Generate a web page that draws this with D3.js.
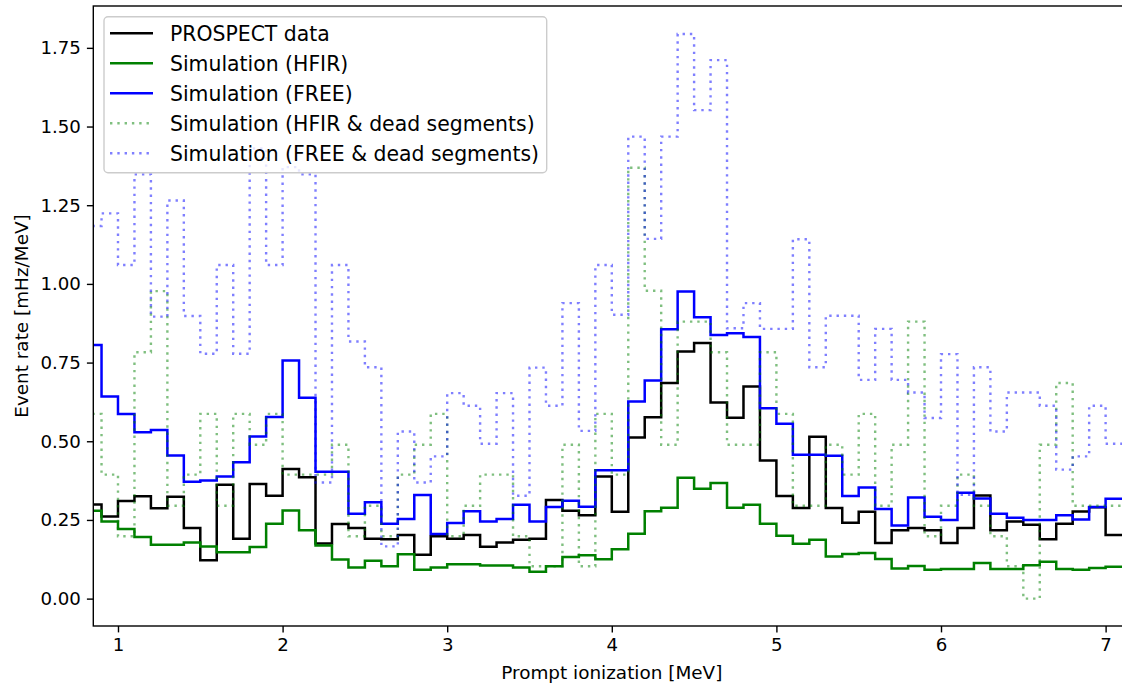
<!DOCTYPE html>
<html lang="en">
<head>
<meta charset="UTF-8">
<title>Prompt ionization spectrum</title>
<script src="https://d3js.org/d3.v7.min.js"></script>
<style>
  body { margin: 0; background: #fff; }
  svg { display: block; font-family: "DejaVu Sans", sans-serif; }
</style>
</head>
<body>
<div id="chart"></div>
<script>
// bin edges [MeV], 0.1 MeV wide
const binEdges = [0.8, 0.9, 1.0, 1.1, 1.2, 1.3, 1.4, 1.5, 1.6, 1.7, 1.8, 1.9, 2.0, 2.1, 2.2, 2.3,
  2.4, 2.5, 2.6, 2.7, 2.8, 2.9, 3.0, 3.1, 3.2, 3.3, 3.4, 3.5, 3.6, 3.7, 3.8, 3.9, 4.0, 4.1, 4.2,
  4.3, 4.4, 4.5, 4.6, 4.7, 4.8, 4.9, 5.0, 5.1, 5.2, 5.3, 5.4, 5.5, 5.6, 5.7, 5.8, 5.9, 6.0, 6.1,
  6.2, 6.3, 6.4, 6.5, 6.6, 6.7, 6.8, 6.9, 7.0, 7.1];

// event rate per bin [mHz/MeV]
const prospectData = [0.299, 0.261, 0.310, 0.325, 0.287, 0.324, 0.224, 0.122, 0.362, 0.190,
  0.364, 0.327, 0.412, 0.386, 0.175, 0.237, 0.224, 0.190, 0.189, 0.202, 0.139, 0.198, 0.190,
  0.202, 0.165, 0.178, 0.187, 0.190, 0.313, 0.279, 0.265, 0.388, 0.276, 0.512, 0.576, 0.685,
  0.785, 0.812, 0.623, 0.575, 0.674, 0.439, 0.326, 0.288, 0.514, 0.288, 0.241, 0.276, 0.177,
  0.217, 0.224, 0.217, 0.177, 0.224, 0.328, 0.217, 0.245, 0.235, 0.189, 0.238, 0.277, 0.290, 0.202];

const simHfir = [0.279, 0.245, 0.221, 0.196, 0.171, 0.171, 0.178, 0.166, 0.147, 0.147, 0.164,
  0.238, 0.280, 0.217, 0.169, 0.124, 0.099, 0.120, 0.103, 0.141, 0.092, 0.099, 0.109, 0.109,
  0.105, 0.105, 0.099, 0.085, 0.103, 0.132, 0.138, 0.125, 0.157, 0.206, 0.278, 0.289, 0.384,
  0.349, 0.367, 0.289, 0.298, 0.238, 0.200, 0.174, 0.187, 0.134, 0.142, 0.145, 0.126, 0.096,
  0.104, 0.092, 0.094, 0.094, 0.113, 0.094, 0.094, 0.106, 0.117, 0.094, 0.092, 0.097, 0.101];

const simFree = [0.806, 0.642, 0.587, 0.529, 0.536, 0.455, 0.371, 0.375, 0.388, 0.433, 0.515,
  0.577, 0.757, 0.638, 0.403, 0.403, 0.270, 0.306, 0.238, 0.253, 0.329, 0.205, 0.240, 0.278,
  0.245, 0.253, 0.298, 0.245, 0.291, 0.311, 0.292, 0.408, 0.408, 0.626, 0.693, 0.856, 0.976,
  0.894, 0.838, 0.843, 0.831, 0.605, 0.556, 0.457, 0.457, 0.454, 0.326, 0.353, 0.285, 0.232,
  0.321, 0.260, 0.250, 0.336, 0.318, 0.270, 0.257, 0.250, 0.250, 0.265, 0.251, 0.291, 0.317];

const simHfirDead = [0.587, 0.394, 0.198, 0.783, 0.977, 0.295, 0.394, 0.587, 0.295, 0.587,
  0.489, 0.587, 0.394, 0.394, 0.394, 0.489, 0.198, 0.295, 0.198, 0.394, 0.489, 0.587, 0.198,
  0.295, 0.394, 0.394, 0.198, 0.103, 0.103, 0.489, 0.103, 0.587, 0.394, 1.369, 0.978, 0.489,
  0.880, 0.880, 0.783, 0.489, 0.489, 0.783, 0.587, 0.295, 0.295, 0.489, 0.394, 0.587, 0.295,
  0.489, 0.880, 0.198, 0.295, 0.394, 0.295, 0.198, 0.103, 0.000, 0.489, 0.685, 0.295, 0.295, 0.295];

const simFreeDead = [1.184, 1.224, 1.060, 1.348, 0.896, 1.265, 0.898, 0.778, 1.060, 0.778,
  1.430, 1.060, 1.371, 1.348, 0.369, 1.060, 0.817, 0.735, 0.166, 0.531, 0.369, 0.452, 0.653,
  0.613, 0.492, 0.653, 0.327, 0.734, 0.613, 0.939, 0.533, 1.060, 0.902, 1.468, 1.143, 1.468,
  1.794, 1.552, 1.711, 0.859, 0.939, 0.857, 0.857, 1.142, 0.735, 0.899, 0.899, 0.695, 0.857,
  0.695, 0.655, 0.574, 0.777, 0.330, 0.735, 0.531, 0.655, 0.655, 0.613, 0.410, 0.452, 0.613, 0.492];

const xTicks = [1, 2, 3, 4, 5, 6, 7];
const yTicks = [0, 0.25, 0.5, 0.75, 1.0, 1.25, 1.5, 1.75];

const series = [
  { label: "PROSPECT data", values: prospectData, color: "#000000", dotted: false },
  { label: "Simulation (HFIR)", values: simHfir, color: "#008000", dotted: false },
  { label: "Simulation (FREE)", values: simFree, color: "#0000ff", dotted: false },
  { label: "Simulation (HFIR & dead segments)", values: simHfirDead, color: "#008000", dotted: true },
  { label: "Simulation (FREE & dead segments)", values: simFreeDead, color: "#0000ff", dotted: true }
];

// layout (the right spine falls just outside the picture)
const W = 1122, H = 683;
const plot = { left: 93.3, top: 6, right: 1130.3, bottom: 626 };

const svg = d3.select("#chart").append("svg")
  .attr("width", W)
  .attr("height", H);

const x = d3.scaleLinear().domain([0.85, 7.15]).range([plot.left, plot.right]);
const y = d3.scaleLinear().domain([-0.087, 1.883]).range([plot.bottom, plot.top]);

svg.append("clipPath").attr("id", "plot-clip")
  .append("rect")
  .attr("x", plot.left).attr("y", plot.top)
  .attr("width", plot.right - plot.left).attr("height", plot.bottom - plot.top);

// step histograms
const stepLine = d3.line()
  .x(d => x(d[0]))
  .y(d => y(d[1]))
  .curve(d3.curveStepAfter);

const lines = svg.append("g").attr("clip-path", "url(#plot-clip)");
series.forEach(s => {
  const pts = binEdges.map((e, i) => [e, s.values[Math.min(i, s.values.length - 1)]]);
  lines.append("path")
    .datum(pts)
    .attr("d", stepLine)
    .attr("fill", "none")
    .attr("stroke", s.color)
    .attr("stroke-opacity", s.dotted ? 0.5 : 1)
    .attr("stroke-width", s.dotted ? 2.4 : 2.5)
    .attr("stroke-dasharray", s.dotted ? "2.4,4.9" : null)
    .attr("stroke-linejoin", "miter")
    .attr("stroke-linecap", "butt");
});

// frame
svg.append("rect")
  .attr("x", plot.left).attr("y", plot.top)
  .attr("width", plot.right - plot.left).attr("height", plot.bottom - plot.top)
  .attr("fill", "none")
  .attr("stroke", "#000")
  .attr("stroke-width", 1.4);

// axes
svg.append("g")
  .attr("transform", `translate(0,${plot.bottom})`)
  .call(d3.axisBottom(x).tickValues(xTicks).tickFormat(d3.format("d")).tickSize(6.4).tickPadding(6))
  .call(g => g.select(".domain").remove())
  .call(g => g.selectAll(".tick line").attr("stroke", "#000").attr("stroke-width", 1.4))
  .call(g => g.selectAll(".tick text").attr("fill", "#000").attr("font-size", "18.2px")
    .attr("font-family", "DejaVu Sans, sans-serif"));

svg.append("g")
  .attr("transform", `translate(${plot.left},0)`)
  .call(d3.axisLeft(y).tickValues(yTicks).tickFormat(d3.format(".2f")).tickSize(6.4).tickPadding(6))
  .call(g => g.select(".domain").remove())
  .call(g => g.selectAll(".tick line").attr("stroke", "#000").attr("stroke-width", 1.4))
  .call(g => g.selectAll(".tick text").attr("fill", "#000").attr("font-size", "18.2px")
    .attr("font-family", "DejaVu Sans, sans-serif"));

// axis labels
svg.append("text")
  .attr("x", (plot.left + plot.right) / 2)
  .attr("y", 679)
  .attr("text-anchor", "middle")
  .attr("font-size", "18.4px")
  .text("Prompt ionization [MeV]");

svg.append("text")
  .attr("transform", `translate(28,${(plot.top + plot.bottom) / 2}) rotate(-90)`)
  .attr("text-anchor", "middle")
  .attr("font-size", "18.4px")
  .text("Event rate [mHz/MeV]");

// legend
const legend = svg.append("g");
legend.append("rect")
  .attr("x", 104).attr("y", 16.7)
  .attr("width", 442.7).attr("height", 156)
  .attr("rx", 4)
  .attr("fill", "#fff")
  .attr("fill-opacity", 0.8)
  .attr("stroke", "#cccccc")
  .attr("stroke-width", 1.4);

const rowY = d3.scaleLinear().domain([0, 4]).range([33.3, 153.3]);
series.forEach((s, i) => {
  const cy = rowY(i);
  legend.append("line")
    .attr("x1", 110).attr("x2", 153)
    .attr("y1", cy).attr("y2", cy)
    .attr("stroke", s.color)
    .attr("stroke-opacity", s.dotted ? 0.5 : 1)
    .attr("stroke-width", s.dotted ? 2.4 : 2.5)
    .attr("stroke-dasharray", s.dotted ? "2.4,4.9" : null);
  legend.append("text")
    .attr("x", 170)
    .attr("y", cy + 7.2)
    .attr("font-size", "20.4px")
    .attr("fill", "#000")
    .text(s.label);
});
</script>
</body>
</html>
